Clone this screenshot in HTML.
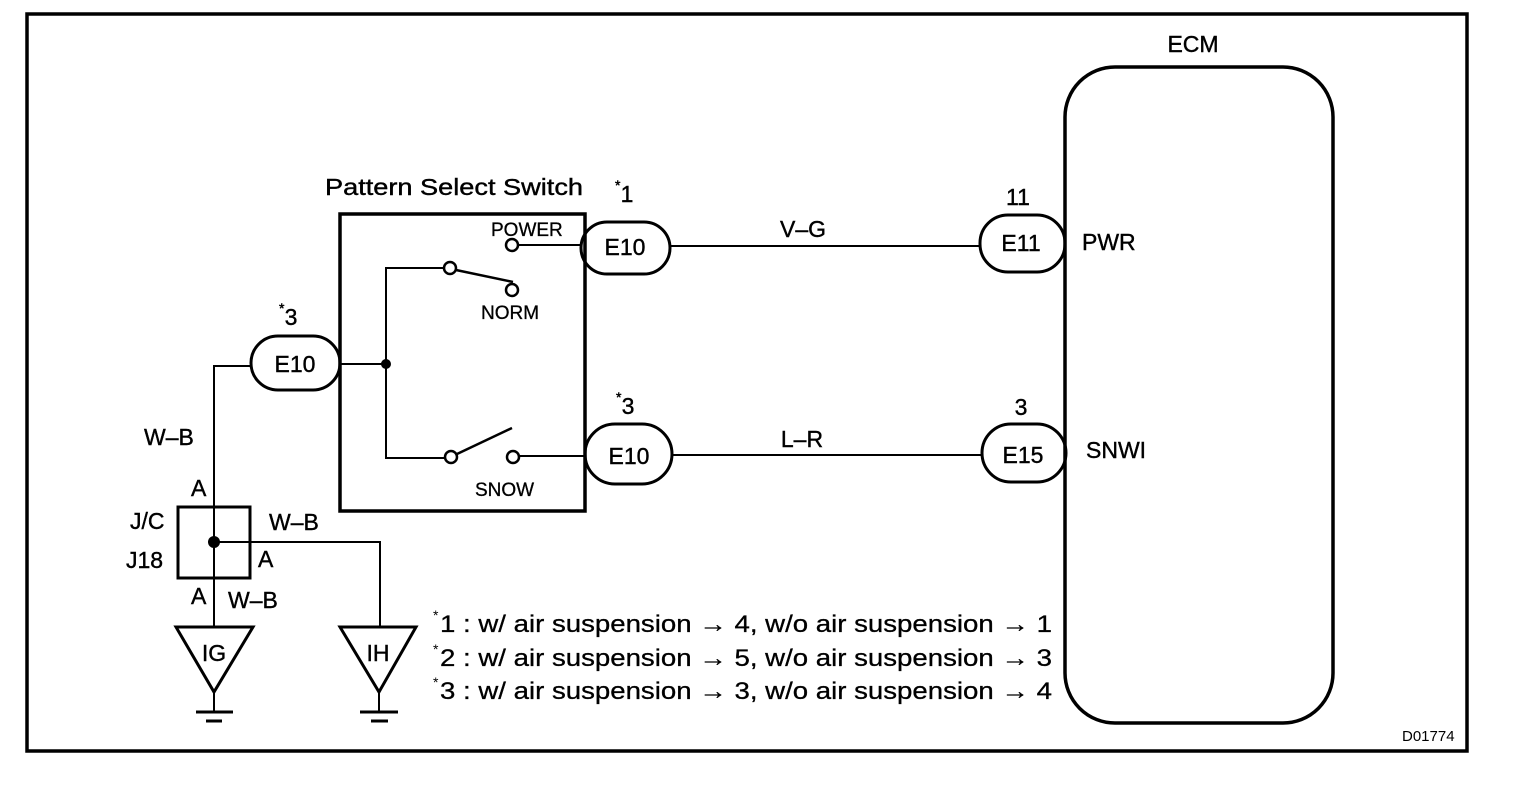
<!DOCTYPE html>
<html><head><meta charset="utf-8"><style>
html,body{margin:0;padding:0;background:#fff;}
svg{display:block;}
text{font-family:"Liberation Sans",Arial,sans-serif;fill:#000;}
</style></head><body>
<svg width="1520" height="792" viewBox="0 0 1520 792" xmlns="http://www.w3.org/2000/svg">
<g fill="none" stroke="#000">
<rect x="27" y="14" width="1440" height="737" stroke-width="3.5"/>
<rect x="1065" y="67" width="268" height="656" rx="50" ry="50" stroke-width="3.5"/>
<rect x="340" y="214" width="245" height="297" stroke-width="3.5"/>
<rect x="581" y="222" width="89" height="52" rx="26" stroke-width="3"/>
<rect x="980" y="215" width="85" height="57" rx="28" stroke-width="3"/>
<rect x="251" y="336" width="89" height="54" rx="27" stroke-width="3"/>
<rect x="585" y="424" width="87" height="60" rx="30" stroke-width="3"/>
<rect x="982" y="424" width="84" height="58" rx="29" stroke-width="3"/>
<g stroke-width="2">
<line x1="670" y1="246" x2="980" y2="246"/>
<line x1="672" y1="455" x2="982" y2="455"/>
<line x1="518" y1="245" x2="581" y2="245"/>
<line x1="340" y1="364" x2="386" y2="364"/>
<polyline points="444,268 386,268 386,458 445,458"/>
<line x1="518" y1="456" x2="585" y2="456"/>
<polyline points="251,366 214,366 214,627"/>
<polyline points="214,542 380,542 380,627"/>
<line x1="214" y1="692" x2="214" y2="712"/>
<line x1="379" y1="692" x2="379" y2="712"/>
</g>
<g stroke-width="2.5">
<circle cx="512" cy="245" r="6"/>
<circle cx="450" cy="268" r="6"/>
<circle cx="512" cy="290" r="6"/>
<circle cx="451" cy="457" r="6"/>
<circle cx="513" cy="457" r="6"/>
<line x1="456" y1="270" x2="513" y2="282"/>
<line x1="457" y1="454" x2="512" y2="428"/>
</g>
<rect x="178" y="507" width="72" height="71" stroke-width="3"/>
<polygon points="176,627 253,627 214,692" stroke-width="3"/>
<polygon points="340,627 416,627 379,692" stroke-width="3"/>
<g stroke-width="3">
<line x1="196" y1="712" x2="233" y2="712"/>
<line x1="206" y1="721" x2="222" y2="721"/>
<line x1="360" y1="712" x2="398" y2="712"/>
<line x1="371" y1="721" x2="388" y2="721"/>
</g>
</g>
<circle cx="386" cy="364" r="5"/>
<circle cx="214" cy="542" r="6"/>
<g font-size="23" stroke="#000" stroke-width="0.4">
<text x="1193" y="52" text-anchor="middle">ECM</text>
<text x="325" y="195" textLength="258" lengthAdjust="spacingAndGlyphs">Pattern Select Switch</text>
<text x="625" y="255" text-anchor="middle">E10</text>
<text x="1021" y="251" text-anchor="middle">E11</text>
<text x="295" y="372" text-anchor="middle">E10</text>
<text x="629" y="464" text-anchor="middle">E10</text>
<text x="1023" y="463" text-anchor="middle">E15</text>
<text x="627" y="202" text-anchor="middle">1</text>
<text x="615" y="190" font-size="14">*</text>
<text x="1018" y="205" text-anchor="middle">11</text>
<text x="291" y="325" text-anchor="middle">3</text>
<text x="279" y="313" font-size="14">*</text>
<text x="628" y="414" text-anchor="middle">3</text>
<text x="616" y="402" font-size="14">*</text>
<text x="1021" y="415" text-anchor="middle">3</text>
<text x="803" y="237" text-anchor="middle">V–G</text>
<text x="802" y="447" text-anchor="middle">L–R</text>
<text x="1082" y="250">PWR</text>
<text x="1086" y="458">SNWI</text>
<text x="144" y="445">W–B</text>
<text x="191" y="496">A</text>
<text x="130" y="529">J/C</text>
<text x="126" y="568">J18</text>
<text x="269" y="530">W–B</text>
<text x="258" y="567">A</text>
<text x="191" y="604">A</text>
<text x="228" y="608">W–B</text>
<text x="214" y="661" text-anchor="middle">IG</text>
<text x="378" y="661" text-anchor="middle">IH</text>
</g>
<g font-size="19" stroke="#000" stroke-width="0.3">
<text x="491" y="236">POWER</text>
<text x="481" y="319">NORM</text>
<text x="475" y="496">SNOW</text>
</g>
<g font-size="24" stroke="#000" stroke-width="0.3">
<text x="440" y="632" textLength="612" lengthAdjust="spacingAndGlyphs">1 : w/ air suspension → 4, w/o air suspension → 1</text>
<text x="440" y="666" textLength="612" lengthAdjust="spacingAndGlyphs">2 : w/ air suspension → 5, w/o air suspension → 3</text>
<text x="440" y="699" textLength="612" lengthAdjust="spacingAndGlyphs">3 : w/ air suspension → 3, w/o air suspension → 4</text>
</g>
<g font-size="14"><text x="433" y="620">*</text><text x="433" y="654">*</text><text x="433" y="687">*</text></g>
<text x="1402" y="741" font-size="15">D01774</text>
</svg>
</body></html>
